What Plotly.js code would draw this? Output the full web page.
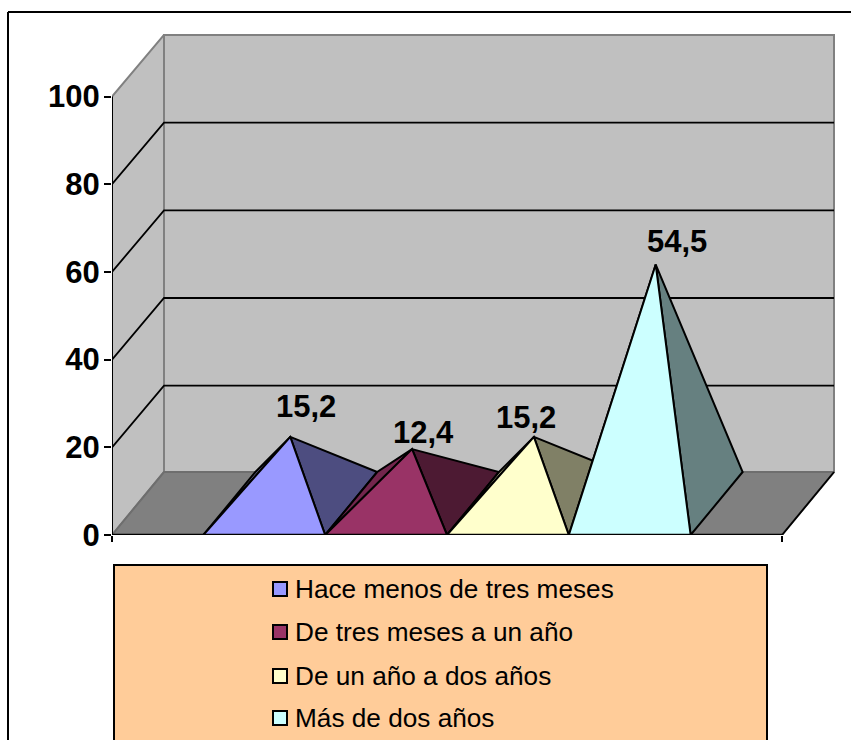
<!DOCTYPE html>
<html>
<head>
<meta charset="utf-8">
<script src="https://cdn.plot.ly/plotly-3.0.1.min.js"></script>
<style>html,body{margin:0;padding:0;background:#fff;overflow:hidden}#c{width:851px;height:740px}</style>
</head>
<body>
<div id="c"></div>
<script>
// ---- data ----
const seriesNames = ['Hace menos de tres meses', 'De tres meses a un año', 'De un año a dos años', 'Más de dos años'];
const seriesValues = [15.2, 12.4, 15.2, 54.5];
const yTicks = [0, 20, 40, 60, 80, 100];
const frontColors = ['#9999FF', '#993366', '#FFFFCC', '#CCFFFF'];
const sideColors = ['#4D4D80', '#4D1A33', '#808066', '#668080'];
const leftColors = ['#737399', '#73264D', '#BFBF99', '#99BFBF'];

// ---- geometry of the pseudo 3D box, in pixels of the page ----
const W = 851, H = 740, L = 112, B = 535, plotW = 670, unitPx = 4.385;
const depthX = 52 / plotW, depthY = 63 / unitPx, gridDepthY = 61.6 / unitPx;
const slot = 1 / (seriesValues.length + 1.5);
const gap = slot * 0.75;
const labelShiftX = [16, 11, -8, 21];
const labelShiftY = [-13, 1, -2, -6];

const px = v => (v - L) / (W - L);
const py = v => (B - v) / B;

function poly(xs, ys, fill, line, width, extra) {
  const t = {type: 'scatter', mode: 'lines', x: xs, y: ys, showlegend: false, hoverinfo: 'skip',
    line: {color: line, width: width === undefined ? 2 : width, simplify: false}};
  if (fill) { t.fill = 'toself'; t.fillcolor = fill; }
  return Object.assign(t, extra || {});
}

const traces = [];
// walls and floor
traces.push(poly([0, depthX, depthX, 0, 0], [0, depthY, 100 + gridDepthY, 100, 0], '#C0C0C0', '#808080'));
traces.push(poly([depthX, 1 + depthX, 1 + depthX, depthX, depthX], [depthY, depthY, 100 + gridDepthY, 100 + gridDepthY, depthY], '#C0C0C0', '#808080'));
traces.push(poly([0, 1, 1 + depthX, depthX, 0], [0, 0, depthY, depthY, 0], '#808080', '#6E6E6E'));
// gridlines
yTicks.filter(v => v > 0 && v < 100).forEach(v => {
  traces.push(poly([0, depthX, 1 + depthX], [v, v + gridDepthY, v + gridDepthY], null, '#000000', 1.8));
});
// black edges
traces.push(poly([0, 0], [0, 100], null, '#000000', 2));
traces.push(poly([1, 1 + depthX], [0, depthY], null, '#000000', 1.8));

// pyramids
seriesValues.forEach((v, i) => {
  const x0 = gap + i * slot, x1 = x0 + slot;
  const ax = (x0 + x1 + depthX) / 2, ay = depthY / 2 + v;
  traces.push(poly([x0, x0 + depthX, ax, x0], [0, depthY, ay, 0], leftColors[i], '#000000'));
  traces.push(poly([x1, x1 + depthX, ax, x1], [0, depthY, ay, 0], sideColors[i], '#000000'));
  traces.push(poly([x0, x1, ax, x0], [0, 0, ay, 0], frontColors[i], '#000000', 2, {name: seriesNames[i]}));
});
// category axis line on top
traces.push(poly([0, 1], [0, 0], null, '#000000', 2.4));

const labelFont = {family: '"Liberation Sans", Arial, sans-serif', size: 31, color: '#000000'};
const annotations = seriesValues.map((v, i) => {
  const x0 = gap + i * slot;
  return {
    x: x0 + (slot + depthX) / 2, y: depthY / 2 + v, xref: 'x', yref: 'y',
    text: '<b>' + v.toFixed(1).replace('.', ',') + '</b>', showarrow: false,
    xanchor: 'center', yanchor: 'bottom', xshift: labelShiftX[i], yshift: -labelShiftY[i] - 2,
    font: labelFont
  };
});

// legend panel
const legendTop = 565, legendRows = [589, 632, 676, 718];
const shapes = [
  {type: 'line', xref: 'paper', yref: 'paper', x0: px(8), x1: px(860), y0: py(12), y1: py(12), line: {color: '#000', width: 2}},
  {type: 'line', xref: 'paper', yref: 'paper', x0: px(8), x1: px(8), y0: py(12), y1: py(760), line: {color: '#000', width: 2}},
  {type: 'rect', xref: 'paper', yref: 'paper', x0: px(114), x1: px(767), y0: py(legendTop), y1: py(780),
   fillcolor: '#FFCC99', line: {color: '#000', width: 2}}
];
seriesNames.forEach((n, i) => {
  shapes.push({type: 'rect', xref: 'paper', yref: 'paper', x0: px(273), x1: px(287),
    y0: py(legendRows[i] - 7), y1: py(legendRows[i] + 7), fillcolor: frontColors[i], line: {color: '#000', width: 2}});
  annotations.push({xref: 'paper', yref: 'paper', x: px(294), y: py(legendRows[i]), text: n, showarrow: false,
    xanchor: 'left', yanchor: 'middle', xshift: 0, borderpad: 0,
    font: {family: '"Liberation Sans", Arial, sans-serif', size: 26.2, color: '#000000'}});
});

const layout = {
  width: W, height: H, margin: {l: L, r: 0, t: 0, b: H - B, pad: 0},
  paper_bgcolor: '#FFFFFF', plot_bgcolor: 'rgba(0,0,0,0)', showlegend: false,
  xaxis: {range: [0, (W - L) / plotW], tickmode: 'array', tickvals: [0, 1], ticktext: ['', ''], ticks: 'outside',
    ticklen: 6, tickwidth: 2, tickcolor: '#000', showgrid: false, zeroline: false, showline: false, fixedrange: true},
  yaxis: {range: [0, B / unitPx], tickmode: 'array', tickvals: yTicks, ticktext: yTicks.map(v => '<b>' + v + '</b>'), ticks: 'outside',
    ticklen: 7, tickwidth: 2, tickcolor: '#000', showgrid: false, zeroline: false, showline: false, fixedrange: true,
    tickfont: labelFont, ticklabelstandoff: -2},
  shapes: shapes, annotations: annotations
};
Plotly.newPlot('c', traces, layout, {displayModeBar: false, staticPlot: true});
</script>
</body>
</html>
